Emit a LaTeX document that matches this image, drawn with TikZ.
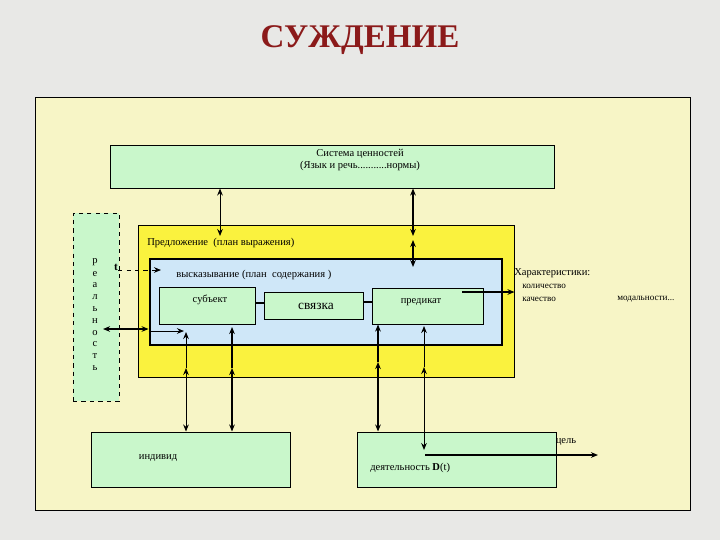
\documentclass[tikz,border=0pt]{standalone}
\usepackage{fontspec}
\setmainfont{Liberation Serif}
\usepackage{xcolor}
\usepackage{tikz}
\usetikzlibrary{positioning,fit,arrows.meta}
\definecolor{bggray}{HTML}{E8E8E6}
\definecolor{panelyellow}{HTML}{F7F5C6}
\definecolor{boxgreen}{HTML}{C9F7CB}
\definecolor{boxyellow}{HTML}{FAF23E}
\definecolor{boxblue}{HTML}{CFE7F8}
\definecolor{titlered}{HTML}{8B1A1A}
\tikzset{
  box/.style={draw, inner sep=0pt, line width=0.7pt},
  lbl/.style={font=\fontsize{7.5}{9}\selectfont, inner sep=0pt},
  smalllbl/.style={font=\fontsize{6.5}{8}\selectfont, inner sep=0pt},
  thinline/.style={line width=0.7pt},
  thickline/.style={line width=1.6pt}
}

\begin{document}
\begin{tikzpicture}[x=0.025cm,y=-0.025cm,>={Stealth[length=5pt,width=4pt]}]
        \fill[bggray] (0,0) rectangle (720,540);
        \useasboundingbox (0,0) rectangle (720,540);
        \node[font=\fontsize{23.5}{26}\selectfont\bfseries, text=titlered] (title) at (360,40) {СУЖДЕНИЕ};
        \node[box, fill=panelyellow, fit={(35,97) (690,510)}] (panel) {};
        % система ценностей
        \node[box, fill=boxgreen, fit={(110,145) (554,188)}] (sys) {};
        \node[lbl, align=center] (systxt) at (360,160) {Система ценностей\\(Язык и речь...........нормы)};
        % предложение и высказывание
        \node[box, fill=boxyellow, fit={(138,225) (514,377)}] (sent) {};
        \node[lbl, anchor=west] (senttxt) at (147,243) {Предложение\ \ (план выражения)};
        \node[box, fill=boxblue, line width=2pt, fit={(150,259) (502,345)}] (stmt) {};
        \node[lbl, anchor=west] (stmttxt) at (176,275) {высказывание (план\ \ содержания )};
        \node[box, fill=boxgreen, fit={(159,287) (255,324)}] (subj) {};
        \node[lbl] at (210,300) {субъект};
        \node[box, fill=boxgreen, fit={(264,292) (363,319)}] (link) {};
        \node[font=\fontsize{9.5}{11}\selectfont, inner sep=0pt] at (316,306) {связка};
        \node[box, fill=boxgreen, fit={(372,288) (483,324)}] (pred) {};
        \node[lbl] at (421,302) {предикат};
        \draw[line width=1.8pt] (subj.east |- 0,303) -- (link.west |- 0,303);
        \draw[line width=1.8pt] (link.east |- 0,302) -- (pred.west |- 0,302);
        % реальность
        \node[box, dashed, fill=boxgreen, fit={(73,213) (119,401)}] (real) {};
        \foreach \c [count=\i] in {р,е,а,л,ь,н,о,с,т,ь} {
            \node[lbl] (real-\i) at (95,250+11.8*\i) {\c};
        }
        \node[font=\fontsize{8}{9}\selectfont\bfseries, inner sep=0pt] (t) at (116,267) {t};
        \draw[->, dashed, thinline] (t.east |- 0,270) -- (161,270);
        \coordinate (realpt) at (103,329);
        \draw[<->, thickline] (realpt) -- (stmt.west |- realpt);
        \draw[->, thinline] (stmt.west |- 0,331) -- (184,331);
        % индивид и деятельность
        \node[box, fill=boxgreen, fit={(91,432) (290,487)}] (indiv) {};
        \node[lbl] at (158,458) {индивид};
        \node[box, fill=boxgreen, fit={(357,432) (556,487)}] (act) {};
        \node[lbl, anchor=west] at (370,468) {деятельность \textbf{D}(t)};
        % вертикальные связи
        \draw[<->, thinline] (indiv.north -| 186,0) -- (186,368);
        \draw[->, thinline] (186,368) -- (186,332);
        \draw[<->, thickline] (indiv.north -| 232,0) -- (232,368);
        \draw[->, thickline] (232,368) -- (232,327);
        \draw[<->, thickline] (act.north -| 378,0) -- (378,362);
        \draw[->, thickline] (378,362) -- (pred.south -| 378,0);
        \draw[<->, thinline] (424,450) -- (424,367);
        \draw[->, thinline] (424,367) -- (424,326);
        \coordinate (goal) at (598,455);
        \draw[->, line width=1.2pt] (425,455) -- (goal);
        \node[lbl] at (566,442) {цель};
        \draw[<->, thickline] (413,236) -- (sys.south -| 413,0);
        \draw[<->, thickline] (413,240) -- (413,267);
        \draw[<->, thinline] (220,236) -- (sys.south -| 220,0);
        % характеристики
        \draw[->, thickline] (462,292) -- (sent.east |- 0,292);
        \node[lbl, anchor=west] (chartxt) at (514,273) {Характеристики:};
        \node[smalllbl, anchor=west] at (522,286) {количество};
        \node[smalllbl, anchor=west] at (522,299) {качество};
        \node[smalllbl, anchor=west] at (617,299) {модальности...};
    \end{tikzpicture}
\end{document}
